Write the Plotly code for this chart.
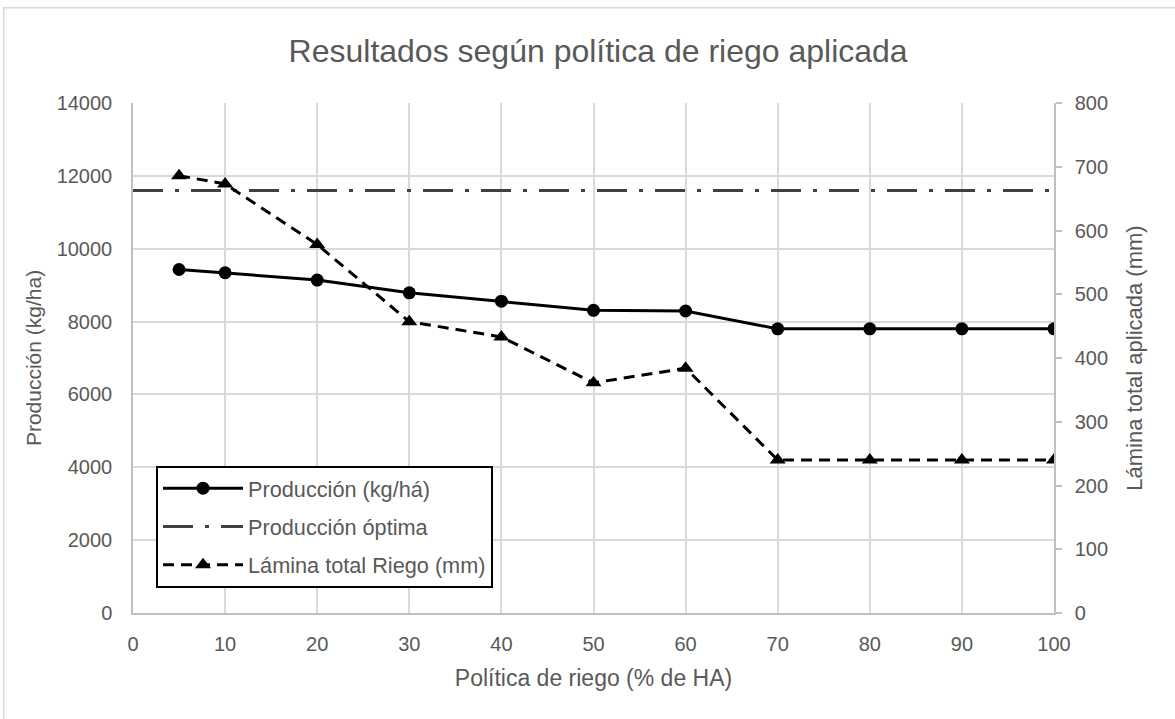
import plotly.graph_objects as go

# Irrigation policy (% of HA) and results
politica = [5, 10, 20, 30, 40, 50, 60, 70, 80, 90, 100]
produccion = [9430, 9340, 9140, 8790, 8560, 8310, 8290, 7800, 7800, 7800, 7800]
lamina = [686, 673, 578, 457, 433, 361, 384, 240, 240, 240, 240]

optima_x = [0, 100]
optima_valor = 11600

titulo = "Resultados según política de riego aplicada"
eje_x = "Política de riego (% de HA)"
eje_y1 = "Producción (kg/ha)"
eje_y2 = "Lámina total aplicada (mm)"
nombres = ["Producción (kg/há)", "Producción óptima", "Lámina total Riego (mm)"]

FONT = "Liberation Sans, Arial, sans-serif"
GRAY_TXT = "#595959"
GRID = "#d9d9d9"
AXIS = "#bfbfbf"

fig = go.Figure()

fig.add_trace(go.Scatter(
    x=politica, y=produccion, name=nombres[0], mode="lines+markers",
    legendgroup="g1",
    line=dict(color="black", width=3),
    marker=dict(symbol="circle", size=13, color="black"),
))

fig.add_trace(go.Scatter(
    x=optima_x, y=[optima_valor] * len(optima_x), name=nombres[1], mode="lines",
    legendgroup="g2",
    line=dict(color="#404040", width=3, dash="30px,12px,4px,12px"),
))

fig.add_trace(go.Scatter(
    x=politica, y=lamina, name=nombres[2], mode="lines+markers", yaxis="y2",
    legendgroup="g3",
    line=dict(color="black", width=3, dash="11px,7px"),
    marker=dict(symbol="triangle-up", size=14, color="black"),
))

fig.update_layout(
    width=1175, height=719,
    margin=dict(l=133, r=121, t=103, b=106),
    paper_bgcolor="white", plot_bgcolor="white",
    font=dict(family=FONT, size=20, color=GRAY_TXT),
    title=dict(text=titulo, x=0.505, xref="paper", xanchor="center",
               y=0.930, yref="container", yanchor="middle",
               font=dict(family=FONT, size=32, color=GRAY_TXT)),
    showlegend=True,
    legend=dict(
        x=0.025, y=0.289, xanchor="left", yanchor="top",
        bgcolor="white", bordercolor="black", borderwidth=2,
        font=dict(family=FONT, size=21.7, color=GRAY_TXT),
        traceorder="grouped", tracegroupgap=7, itemwidth=80,
    ),
    xaxis=dict(
        range=[0, 100], dtick=10, tick0=0,
        showgrid=True, gridcolor=GRID, gridwidth=1.5,
        showline=True, linecolor=AXIS, linewidth=1.5,
        ticks="", ticklabelstandoff=12, zeroline=False,
        title=dict(text=eje_x, standoff=16, font=dict(size=23, color=GRAY_TXT)),
        tickfont=dict(size=20, color=GRAY_TXT),
    ),
    yaxis=dict(
        range=[0, 14000], dtick=2000, tick0=0, tickformat="d",
        showgrid=True, gridcolor=GRID, gridwidth=1.5,
        showline=True, linecolor=AXIS, linewidth=1.5,
        ticks="", ticklabelstandoff=15, zeroline=False,
        title=dict(text=eje_y1, standoff=9, font=dict(size=21, color=GRAY_TXT)),
        tickfont=dict(size=20, color=GRAY_TXT),
    ),
    yaxis2=dict(
        range=[0, 800], dtick=100, tick0=0, tickformat="d",
        overlaying="y", side="right",
        showgrid=False, showline=True, linecolor=AXIS, linewidth=1.5,
        ticks="outside", ticklen=6, tickcolor=AXIS, tickwidth=1.5,
        ticklabelstandoff=9, zeroline=False,
        title=dict(text=eje_y2, standoff=19, font=dict(size=22, color=GRAY_TXT)),
        tickfont=dict(size=20, color=GRAY_TXT),
    ),
    shapes=[dict(type="rect", xref="paper", yref="paper",
                 x0=-0.1404, x1=1.3, y0=-0.4, y1=1.187,
                 line=dict(color="#d9d9d9", width=1.5), layer="below")],
)

fig.write_html("out.html")
